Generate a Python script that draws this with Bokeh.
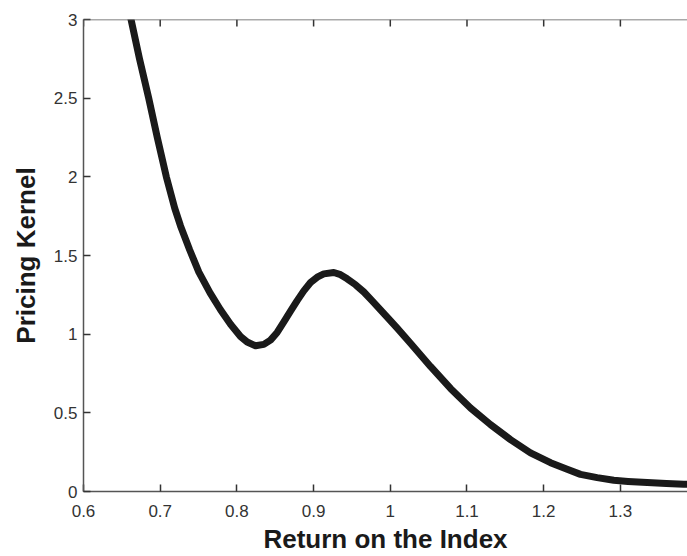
import math
from bokeh.plotting import figure
from bokeh.models import Range1d, FixedTicker, ColumnDataSource, Span
from bokeh.embed import file_html
from bokeh.resources import INLINE

# ---- data ----
ret_index = [0.658, 0.662, 0.673, 0.685, 0.6962, 0.708, 0.719, 0.7265, 0.7385,
             0.7504, 0.765, 0.7786, 0.7917, 0.8047, 0.8134, 0.8243,
             0.8351, 0.8438, 0.8525, 0.8612, 0.8699, 0.8786, 0.8872, 0.896,
             0.9047, 0.9133, 0.9264, 0.9351, 0.9438, 0.9547, 0.9655, 0.9764,
             0.9872, 0.998, 1.009, 1.0263, 1.0524, 1.0785, 1.1046, 1.1307, 1.1567,
             1.1828, 1.2089, 1.2306, 1.248, 1.2697, 1.2914, 1.31, 1.335, 1.36,
             1.3827, 1.39]
pricing_kernel = [3.09, 3.0, 2.75, 2.5, 2.25, 2.0, 1.80, 1.688, 1.535,
                  1.394, 1.262, 1.155, 1.063, 0.985, 0.95, 0.926,
                  0.935, 0.962, 1.011, 1.078, 1.146, 1.213, 1.275, 1.328,
                  1.362, 1.383, 1.392, 1.378, 1.352, 1.314, 1.268, 1.212,
                  1.155, 1.097, 1.038, 0.942, 0.795, 0.655, 0.531, 0.425, 0.330,
                  0.246, 0.183, 0.141, 0.109, 0.088, 0.071, 0.064, 0.057, 0.051,
                  0.046, 0.045]

x_ticks = [0.6, 0.7, 0.8, 0.9, 1.0, 1.1, 1.2, 1.3]
x_tick_labels = ["0.6", "0.7", "0.8", "0.9", "1", "1.1", "1.2", "1.3"]
y_ticks = [0, 0.5, 1, 1.5, 2, 2.5, 3]
y_tick_labels = ["0", "0.5", "1", "1.5", "2", "2.5", "3"]

x_title = "Return on the Index"
y_title = "Pricing Kernel"

# ---- figure ----
p = figure(width=687, height=556, output_backend="svg", toolbar_location=None,
           x_range=Range1d(0.6, 1.3875), y_range=Range1d(0, 3),
           min_border_left=83, min_border_right=0, min_border_top=19,
           min_border_bottom=62, background_fill_color="white",
           border_fill_color="white")
p.outline_line_color = None
p.grid.visible = False

src = ColumnDataSource(dict(x=ret_index, y=pricing_kernel))
p.line("x", "y", source=src, line_color="#1a1a1a", line_width=7,
       line_join="round", line_cap="round")

axis_color = "#555555"
tick_color = "#333333"
label_font = "Liberation Sans"

def style_axis(ax):
    ax.axis_line_color = axis_color
    ax.axis_line_width = 1.5
    ax.major_tick_line_color = tick_color
    ax.major_tick_line_width = 1.5
    ax.major_tick_in = 7
    ax.major_tick_out = 0
    ax.minor_tick_line_color = None
    ax.major_label_text_font = label_font
    ax.major_label_text_font_size = "17px"
    ax.major_label_text_color = "#333333"
    ax.axis_label_text_font = label_font
    ax.axis_label_text_font_style = "bold"
    ax.axis_label_text_font_size = "26px"
    ax.axis_label_text_color = "#1a1a1a"

xa = p.xaxis[0]
xa.ticker = FixedTicker(ticks=x_ticks)
xa.major_label_overrides = dict(zip(x_ticks, x_tick_labels))
style_axis(xa)
xa.major_label_standoff = 13
xa.axis_label = x_title
xa.axis_label_standoff = 4

ya = p.yaxis[0]
ya.ticker = FixedTicker(ticks=y_ticks)
ya.major_label_overrides = dict(zip(y_ticks, y_tick_labels))
style_axis(ya)
ya.major_label_standoff = 6
ya.axis_label = y_title
ya.axis_label_standoff = 10

# top border with inward ticks (no labels)
p.add_layout(Span(location=y_ticks[-1], dimension="width",
                  line_color=axis_color, line_width=1.5))
p.ray(x=x_ticks, y=[y_ticks[-1]] * len(x_ticks), length=7,
      length_units="screen", angle=-math.pi / 2,
      line_color=tick_color, line_width=1.5)

open("out.html", "w").write(file_html(p, INLINE))
